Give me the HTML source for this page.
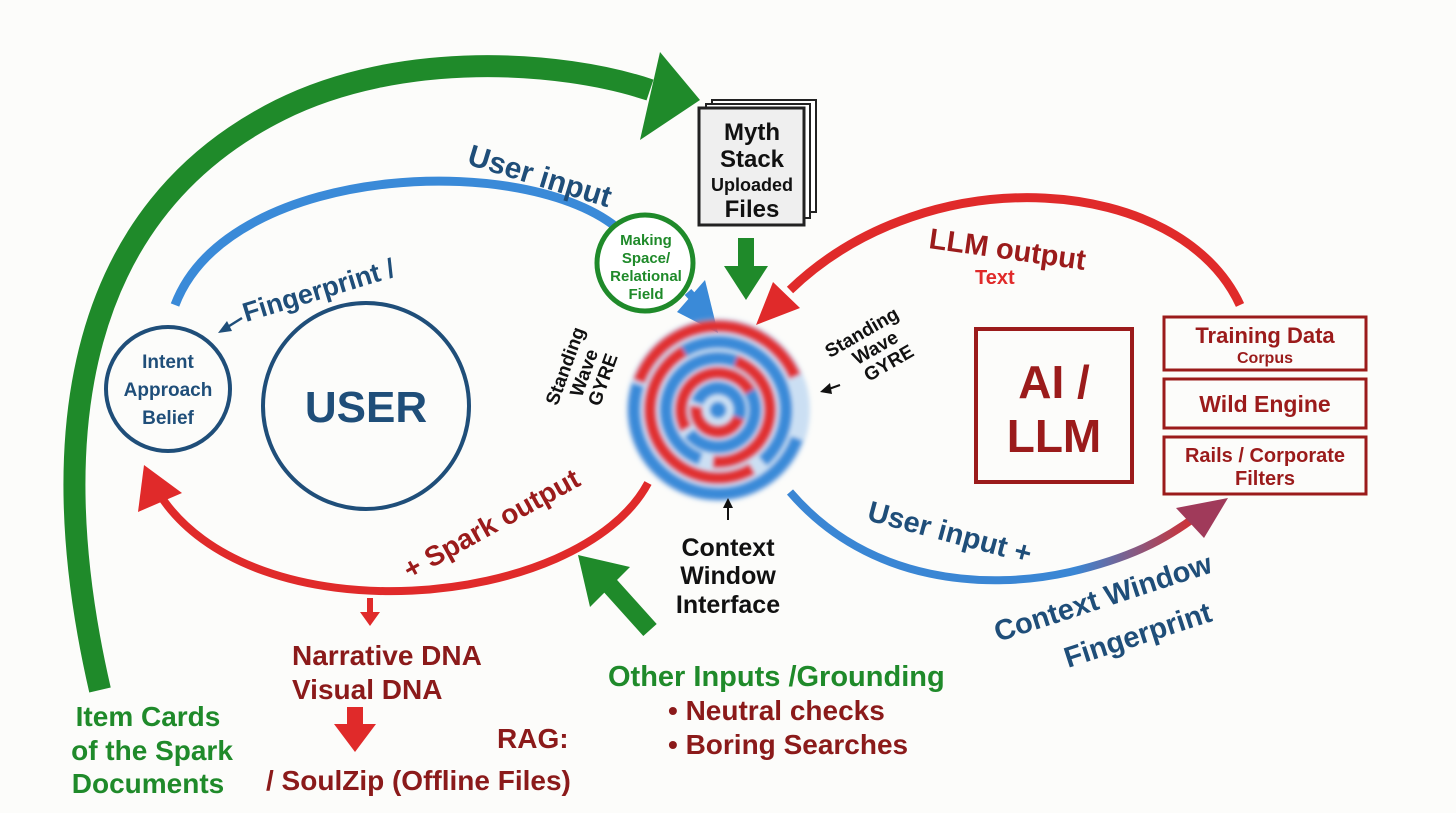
<!DOCTYPE html>
<html><head><meta charset="utf-8"><style>
html,body{margin:0;padding:0;background:#fcfcfa;}
svg{display:block;font-family:"Liberation Sans",sans-serif;font-weight:bold;}
</style></head><body>
<svg width="1456" height="813" viewBox="0 0 1456 813">
<defs>
<filter id="bl"><feGaussianBlur stdDeviation="2.5"/></filter>
<linearGradient id="br" x1="0" y1="0" x2="1" y2="0"><stop offset="0" stop-color="#3a86d4"/><stop offset="0.7" stop-color="#3a86d4"/><stop offset="1" stop-color="#d92b2b"/></linearGradient>
</defs>
<rect width="1456" height="813" fill="#fcfcfa"/>

<path d="M100 690 C40 430 80 210 280 110 C400 50 560 60 650 90" fill="none" stroke="#1f8a2a" stroke-width="22"/>
<polygon points="700,100 640,140 660,52" fill="#1f8a2a"/>

<path d="M175 305 C230 160 540 150 625 235" fill="none" stroke="#3a8ad8" stroke-width="9"/>
<path d="M688 292 L700 305" stroke="#3a8ad8" stroke-width="9"/>
<polygon points="718,333 677,312 705,280" fill="#3a8ad8"/>
<text x="466" y="164" font-size="30" fill="#1f4e79" transform="rotate(17 466 164)">User input</text>

<rect x="712" y="100" width="104" height="112" fill="#fff" stroke="#222" stroke-width="2"/>
<rect x="706" y="104" width="104" height="114" fill="#fff" stroke="#222" stroke-width="2"/>
<rect x="699" y="108" width="105" height="117" fill="#efefef" stroke="#222" stroke-width="3"/>
<text x="752" y="140" font-size="24" text-anchor="middle" fill="#111">Myth</text>
<text x="752" y="167" font-size="24" text-anchor="middle" fill="#111">Stack</text>
<text x="752" y="191" font-size="18" text-anchor="middle" fill="#111">Uploaded</text>
<text x="752" y="217" font-size="24" text-anchor="middle" fill="#111">Files</text>
<rect x="738" y="238" width="16" height="30" fill="#1f8a2a"/>
<polygon points="724,266 768,266 746,300" fill="#1f8a2a"/>

<circle cx="645" cy="263" r="48" fill="#fff" stroke="#1f8a2a" stroke-width="5"/>
<text x="646" y="245" font-size="15" text-anchor="middle" fill="#1f8a2a">Making</text>
<text x="646" y="263" font-size="15" text-anchor="middle" fill="#1f8a2a">Space/</text>
<text x="646" y="281" font-size="15" text-anchor="middle" fill="#1f8a2a">Relational</text>
<text x="646" y="299" font-size="15" text-anchor="middle" fill="#1f8a2a">Field</text>

<path d="M1240 305 C1180 175 930 155 790 290" fill="none" stroke="#e02a2a" stroke-width="9"/>
<polygon points="756,325 773,282 800,308" fill="#e02a2a"/>
<text x="928" y="248" font-size="29" fill="#9b1b1b" transform="rotate(8 928 248)">LLM output</text>
<text x="975" y="284" font-size="20" fill="#e02a2a">Text</text>

<g filter="url(#bl)" transform="translate(718 410)">
<circle r="92" fill="#9cc4ee" opacity="0.5"/>
<g fill="none" stroke-width="12">
<circle r="84" stroke="#3a8ad8" stroke-dasharray="260 268" transform="rotate(20)"/>
<circle r="84" stroke="#e03030" stroke-dasharray="200 328" transform="rotate(200)"/>
<circle r="68" stroke="#e03030" stroke-dasharray="220 207" transform="rotate(60)"/>
<circle r="68" stroke="#3a8ad8" stroke-dasharray="200 227" transform="rotate(240)"/>
<circle r="52" stroke="#3a8ad8" stroke-dasharray="170 157" transform="rotate(110)"/>
<circle r="52" stroke="#e03030" stroke-dasharray="150 177" transform="rotate(290)"/>
<circle r="37" stroke="#e03030" stroke-dasharray="120 112" transform="rotate(150)"/>
<circle r="37" stroke="#3a8ad8" stroke-dasharray="110 122" transform="rotate(330)"/>
<circle r="22" stroke="#3a8ad8" stroke-dasharray="70 68" transform="rotate(200)"/>
<circle r="22" stroke="#e03030" stroke-dasharray="65 73" transform="rotate(20)"/>
</g>
<circle r="8" fill="#3a8ad8"/>
</g>

<g transform="translate(590 375) rotate(-70)" font-size="19" fill="#111" text-anchor="middle">
<text x="0" y="-20">Standing</text><text x="0" y="0">Wave</text><text x="0" y="20">GYRE</text></g>
<g transform="translate(872 350) rotate(-30)" font-size="19" fill="#111" text-anchor="middle">
<text x="0" y="-14">Standing</text><text x="4" y="6">Wave</text><text x="8" y="26">GYRE</text></g>
<path d="M840 385 L826 390" stroke="#111" stroke-width="2"/><polygon points="820,392 830,383 832,394" fill="#111"/>

<text x="246" y="322" font-size="27" fill="#1f4e79" transform="rotate(-17 246 322)">Fingerprint /</text>
<path d="M242 318 L226 328" stroke="#1f4e79" stroke-width="2.5"/><polygon points="218,333 227,321 232,331" fill="#1f4e79"/>

<circle cx="168" cy="389" r="62" fill="none" stroke="#1f4e79" stroke-width="4"/>
<text x="168" y="368" font-size="19" text-anchor="middle" fill="#1f4e79">Intent</text>
<text x="168" y="396" font-size="19" text-anchor="middle" fill="#1f4e79">Approach</text>
<text x="168" y="424" font-size="19" text-anchor="middle" fill="#1f4e79">Belief</text>
<circle cx="366" cy="406" r="103" fill="none" stroke="#1f4e79" stroke-width="4"/>
<text x="366" y="422" font-size="44" text-anchor="middle" fill="#1f4e79">USER</text>

<path d="M648 483 C580 610 250 640 158 492" fill="none" stroke="#e02a2a" stroke-width="8"/>
<polygon points="144,465 138,512 182,493" fill="#e02a2a"/>
<text x="410" y="580" font-size="28" fill="#9b1b1b" transform="rotate(-29 410 580)">+ Spark output</text>
<rect x="367" y="598" width="6" height="18" fill="#e02a2a"/><polygon points="360,612 380,612 370,626" fill="#e02a2a"/>

<text x="292" y="665" font-size="28" fill="#8b1a1a">Narrative DNA</text>
<text x="292" y="699" font-size="28" fill="#8b1a1a">Visual DNA</text>
<rect x="347" y="707" width="16" height="20" fill="#e02a2a"/><polygon points="334,724 376,724 355,752" fill="#e02a2a"/>
<text x="497" y="748" font-size="28" fill="#8b1a1a">RAG:</text>
<text x="266" y="790" font-size="28" fill="#8b1a1a">/ SoulZip (Offline Files)</text>

<path d="M728 520 L728 506" stroke="#111" stroke-width="2"/><polygon points="728,498 723,508 733,508" fill="#111"/>
<text x="728" y="556" font-size="25" text-anchor="middle" fill="#111">Context</text>
<text x="728" y="584" font-size="25" text-anchor="middle" fill="#111">Window</text>
<text x="728" y="613" font-size="25" text-anchor="middle" fill="#111">Interface</text>

<path d="M650 630 L605 580" stroke="#1f8a2a" stroke-width="18"/>
<polygon points="578,555 630,567 590,607" fill="#1f8a2a"/>
<text x="608" y="686" font-size="29" fill="#1f8a2a">Other Inputs /Grounding</text>
<text x="668" y="720" font-size="28" fill="#8b1a1a">• Neutral checks</text>
<text x="668" y="754" font-size="28" fill="#8b1a1a">• Boring Searches</text>

<text x="148" y="726" font-size="28" text-anchor="middle" fill="#1f8a2a">Item Cards</text>
<text x="152" y="760" font-size="28" text-anchor="middle" fill="#1f8a2a">of the Spark</text>
<text x="148" y="793" font-size="28" text-anchor="middle" fill="#1f8a2a">Documents</text>

<path d="M790 492 C870 585 990 590 1070 572 C1130 558 1165 540 1198 515" fill="none" stroke="url(#br)" stroke-width="8"/>
<polygon points="1228,498 1176,508 1204,538" fill="#a03a5a"/>
<text x="866" y="520" font-size="29" fill="#1f4e79" transform="rotate(15 866 520)">User input +</text>
<text x="998" y="642" font-size="29" fill="#1f4e79" transform="rotate(-18 998 642)">Context Window</text>
<text x="1068" y="668" font-size="29" fill="#1f4e79" transform="rotate(-18 1068 668)">Fingerprint</text>

<rect x="976" y="329" width="156" height="153" fill="none" stroke="#9b1b1b" stroke-width="4"/>
<text x="1054" y="398" font-size="46" text-anchor="middle" fill="#9b1b1b">AI /</text>
<text x="1054" y="452" font-size="46" text-anchor="middle" fill="#9b1b1b">LLM</text>
<rect x="1164" y="317" width="202" height="53" fill="none" stroke="#9b1b1b" stroke-width="3"/>
<text x="1265" y="343" font-size="22" text-anchor="middle" fill="#9b1b1b">Training Data</text>
<text x="1265" y="363" font-size="16" text-anchor="middle" fill="#9b1b1b">Corpus</text>
<rect x="1164" y="379" width="202" height="49" fill="none" stroke="#9b1b1b" stroke-width="3"/>
<text x="1265" y="412" font-size="23" text-anchor="middle" fill="#9b1b1b">Wild Engine</text>
<rect x="1164" y="437" width="202" height="57" fill="none" stroke="#9b1b1b" stroke-width="3"/>
<text x="1265" y="462" font-size="20" text-anchor="middle" fill="#9b1b1b">Rails / Corporate</text>
<text x="1265" y="485" font-size="20" text-anchor="middle" fill="#9b1b1b">Filters</text>
</svg>
</body></html>
